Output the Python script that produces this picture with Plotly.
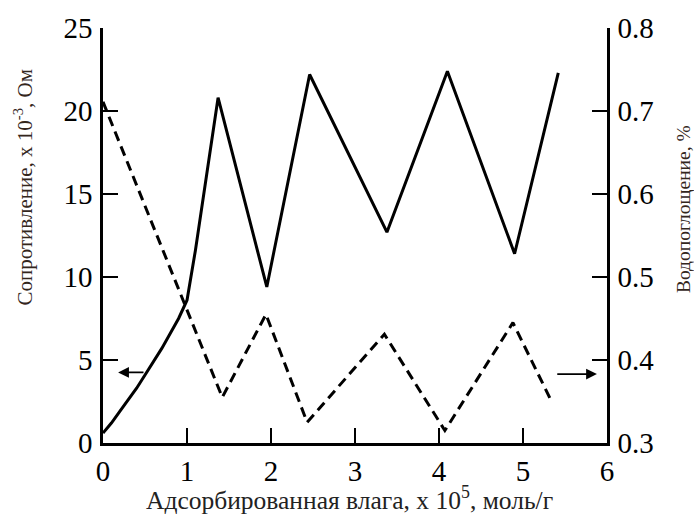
import plotly.graph_objects as go

# Resistance (left axis), x 10^-3 Ohm
res_x = [0, 0.1, 0.2, 0.3, 0.4, 0.5, 0.6, 0.7, 0.8, 0.9, 1.0, 1.1, 1.37, 1.95, 2.46, 3.38, 4.1, 4.9, 5.42]
res_y = [0.6, 1.2, 1.9, 2.6, 3.3, 4.1, 4.9, 5.7, 6.6, 7.5, 8.6, 11.6, 20.8, 9.4, 22.2, 12.7, 22.4, 11.4, 22.3]

# Water absorption (right axis), %
wa_x = [0, 1.42, 1.94, 2.43, 3.35, 4.07, 4.88, 5.35]
wa_y = [0.711, 0.355, 0.455, 0.325, 0.431, 0.315, 0.445, 0.348]

x_ticks = [0, 1, 2, 3, 4, 5, 6]
y1_ticks = [0, 5, 10, 15, 20, 25]
y2_ticks = [0.3, 0.4, 0.5, 0.6, 0.7, 0.8]

FONT = "Liberation Serif, Times New Roman, serif"

fig = go.Figure()
fig.add_trace(go.Scatter(x=res_x, y=res_y, mode="lines", line=dict(color="black", width=3),
                         showlegend=False))
fig.add_trace(go.Scatter(x=wa_x, y=wa_y, mode="lines", yaxis="y2",
                         line=dict(color="black", width=3, dash="10px,6px"), showlegend=False))

axis_common = dict(showgrid=False, zeroline=False, showline=True, linecolor="black", linewidth=2.5,
                   ticks="inside", ticklen=15, tickwidth=2, tickcolor="black",
                   tickfont=dict(family=FONT, size=29, color="black"))

fig.update_layout(
    width=694, height=521,
    margin=dict(l=103, r=87, t=19, b=78),
    font=dict(family=FONT, color="black"),
    paper_bgcolor="white", plot_bgcolor="white",
    xaxis=dict(range=[0, 6], tickvals=x_ticks, ticklabelstandoff=0, **axis_common),
    yaxis=dict(range=[0, 25], tickvals=y1_ticks, ticklabelstandoff=2, **axis_common),
    yaxis2=dict(range=[0.3, 0.8], tickvals=y2_ticks, overlaying="y", side="right",
                ticklabelstandoff=2, tickformat=".1f", **axis_common),
    annotations=[
        dict(text="Адсорбированная влага, х 10<sup>5</sup>, моль/г", xref="paper", yref="paper",
             x=(349 - 103) / 504, y=(443 - 500) / 424, xanchor="center", yanchor="middle",
             showarrow=False, font=dict(family=FONT, size=25.5, color="#222")),
        dict(text="Сопротивление, х 10<sup>-3</sup>, Ом", xref="paper", yref="paper", textangle=-90,
             x=(24 - 103) / 504, y=(443 - 182) / 424, xanchor="center", yanchor="middle",
             showarrow=False, font=dict(family=FONT, size=21, color="#33261c")),
        dict(text="Водопоглощение, %", xref="paper", yref="paper", textangle=-90,
             x=(683 - 103) / 504, y=(443 - 204) / 424, xanchor="center", yanchor="middle",
             showarrow=False, font=dict(family=FONT, size=19.5, color="#33261c")),
        dict(x=0.18, y=4.25, xref="x", yref="y", ax=0.5, ay=4.25, axref="x", ayref="y",
             showarrow=True, arrowhead=2, arrowsize=1.2, arrowwidth=1.8, arrowcolor="black", text=""),
        dict(x=5.88, y=0.383, xref="x", yref="y2", ax=5.39, ay=0.383, axref="x", ayref="y2",
             showarrow=True, arrowhead=2, arrowsize=1.2, arrowwidth=1.8, arrowcolor="black", text=""),
    ],
)

fig.write_html("out.html")
